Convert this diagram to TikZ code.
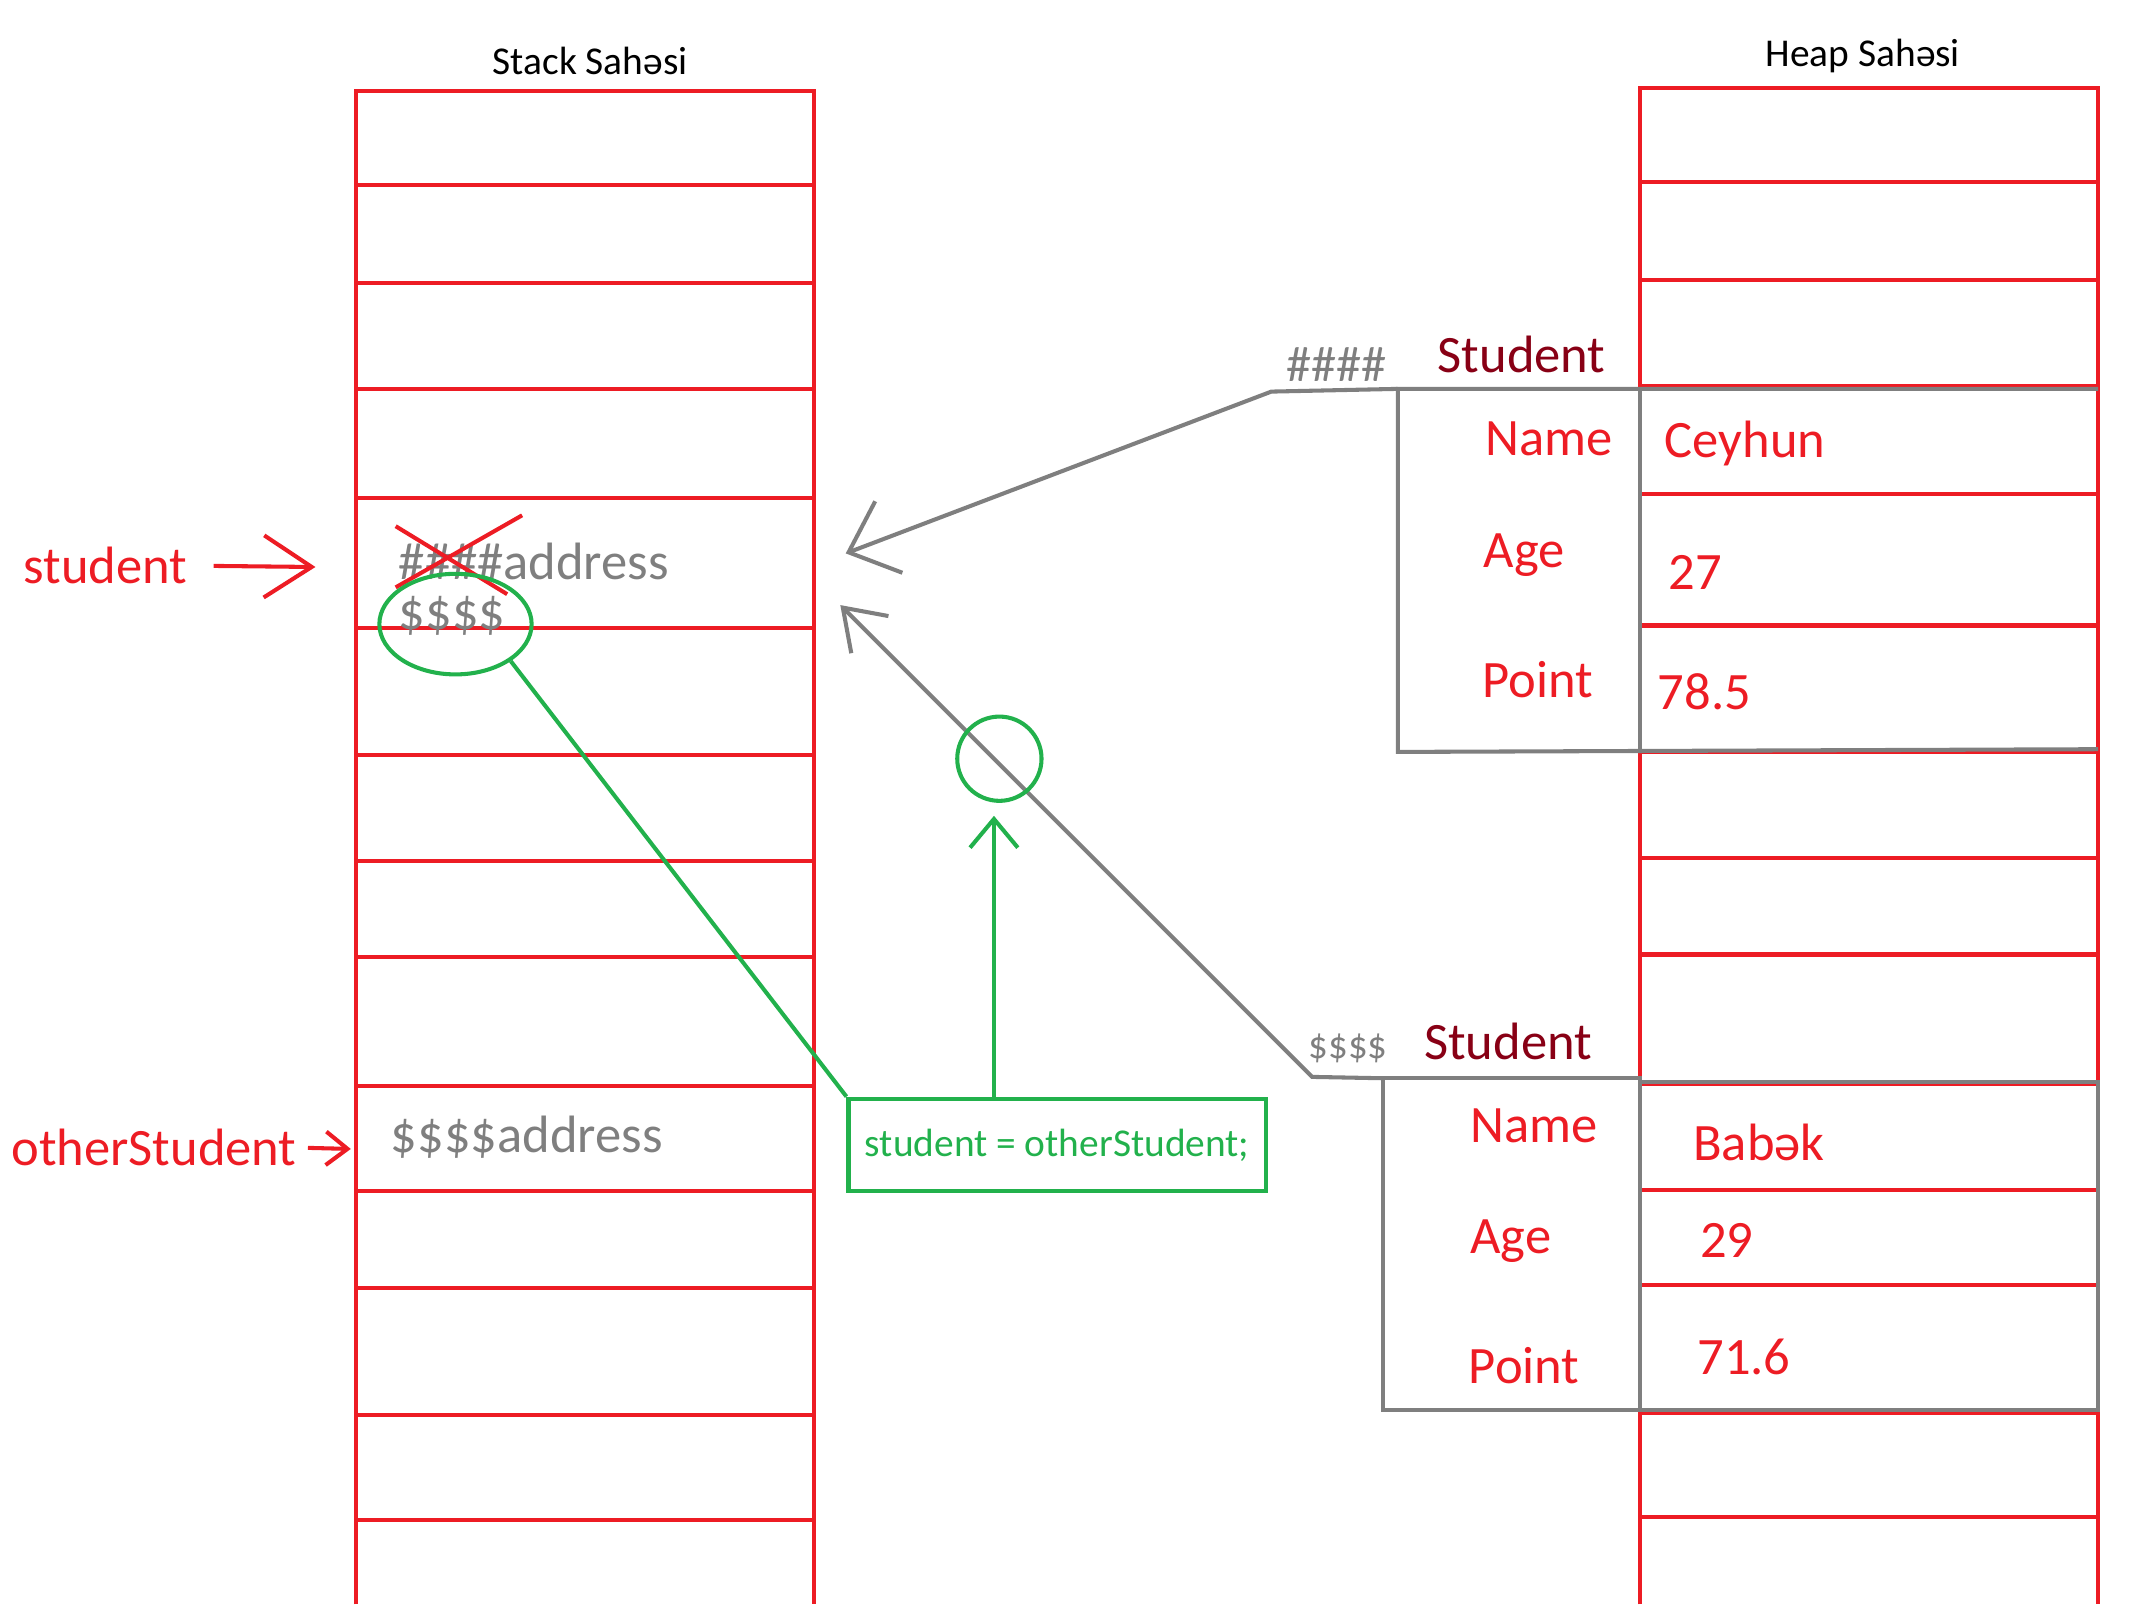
\documentclass[tikz,border=0pt]{standalone}
\usepackage{fontspec}
\setmainfont{Carlito}
\usetikzlibrary{shapes.geometric, arrows.meta, positioning, calc}
\definecolor{memred}{HTML}{ED1C24}
\definecolor{memgray}{HTML}{7F7F7F}
\definecolor{memgreen}{HTML}{22B14C}
\definecolor{memdark}{HTML}{880015}

\begin{document}
\begin{tikzpicture}[x=0.02cm, y=-0.02cm,
  cell/.style={draw=memred, line width=1.7pt},
  objline/.style={draw=memgray, line width=1.7pt},
  headtext/.style={font=\fontsize{16.5}{20}\selectfont},
  vartext/.style={text=memred, font=\fontsize{22}{26}\selectfont, inner sep=0pt, anchor=west},
  addrtext/.style={text=memgray, font=\fontsize{22}{26}\selectfont, inner sep=0pt, anchor=west},
  classtext/.style={text=memdark, font=\fontsize{22}{26}\selectfont, inner sep=0pt, anchor=west},
  fieldtext/.style={text=memred, font=\fontsize{22}{26}\selectfont, inner sep=0pt, anchor=west},
  codebox/.style={draw=memgreen, line width=1.7pt, text=memgreen,
                  font=\fontsize{16.5}{20}\selectfont, minimum width=6.14cm, minimum height=1.36cm},
  greenline/.style={draw=memgreen, line width=1.7pt}]
\useasboundingbox (0,0) rectangle (1568,1180);
% Stack
\draw[cell] (262,1180) -- (262,67) -- (599,67) -- (599,1180);
\foreach \y in {136,208,286,366,462,555,633,704,799,876,947,1041,1118}
  \draw[cell] (262,\y) -- (599,\y);
% Heap
\draw[cell] (1206,1180) -- (1206,65) -- (1543,65) -- (1543,1180);
\foreach \y in {134,206,284,363,460,553,631,702,797,875,945,1039,1116}
  \draw[cell] (1206,\y) -- (1543,\y);
% Objects in heap
\draw[objline] (1543,286) -- (1028,286) -- (1028,553) -- (1543,551);
\draw[objline] (1206,286) -- (1206,553);
\draw[objline] (1017,793) rectangle (1206,1037);
\draw[objline] (1206,796) rectangle (1543,1037);
% Titles
\node[headtext] (stackhead) at (434,45) {Stack Sahəsi};
\node[headtext] (heaphead) at (1370,41) {Heap Sahəsi};
% Variables
\node[vartext] (student) at (17,416) {student};
\node[vartext] (other) at (8,844) {otherStudent};
\coordinate (studentcell) at (232,417);
\coordinate (othercell) at (258,845);
\draw[cell, -{Straight Barb[length=20pt,width=26pt]}, shorten <=0.38cm] (student.east) -- (studentcell);
\draw[cell, -{Straight Barb[length=9pt,width=14pt]}, shorten <=0.16cm] (other.east) -- (othercell);
% Addresses in stack
\node[addrtext] (oldaddr) at (293,413) {\#\#\#\#address};
\node[addrtext] (newaddr) at (293,453) {\$\$\$\$};
\node[addrtext] (otheraddr) at (287,836) {\$\$\$\$address};
\draw[cell] (291,387) -- (373,437);
\draw[cell] (384,379) -- (291,432);
% Student objects
\node[classtext] (class1) at (1057,261) {Student};
\node[classtext] (class2) at (1047,766) {Student};
\node[addrtext, font=\fontsize{21}{24}\selectfont] (ref1) at (946,268) {\#\#\#\#};
\node[addrtext, font=\fontsize{16.3}{20}\selectfont] (ref2) at (962,771) {\$\$\$\$};
\foreach \n/\x/\y/\t in {name1/1092/323/Name, age1/1091/408/Age, point1/1090/500/Point,
                         name2/1081/828/Name, age2/1081/913/Age, point2/1080/1004/Point,
                         val1a/1224/326/Ceyhun, val1b/1227/421/27, val1c/1219/509/78.5,
                         val2a/1245/840/Babək, val2b/1250/912/29, val2c/1248/998/71.6}
  \node[fieldtext] (\n) at (\x,\y) {\t};
% References
\coordinate (obj1) at (1028,286);
\coordinate (bend1) at (935,288);
\coordinate (tip1) at (622,407);
\coordinate (obj2) at (1017,793);
\coordinate (bend2) at (965,792);
\coordinate (tip2) at (618,445);
\draw[objline, -{Straight Barb[length=18pt,width=32pt]}] (obj1) -- (bend1) -- (tip1);
\draw[objline, -{Straight Barb[length=16pt,width=22pt]}] (obj2) -- (bend2) -- (tip2);
% Assignment
\node[codebox] (code) at (777.5,842) {student = otherStudent;};
\node[ellipse, greenline, minimum width=2.24cm, minimum height=1.48cm] (mark) at (335,459) {};
\node[circle, greenline, minimum size=1.24cm] (crossing) at (735,558) {};
\coordinate (uptip) at (731,600);
\draw[greenline] (mark.south east) -- (code.north west);
\draw[greenline, -{Straight Barb[length=12pt,width=20pt]}] (code.north -| uptip) -- (uptip);
\end{tikzpicture}
\end{document}
